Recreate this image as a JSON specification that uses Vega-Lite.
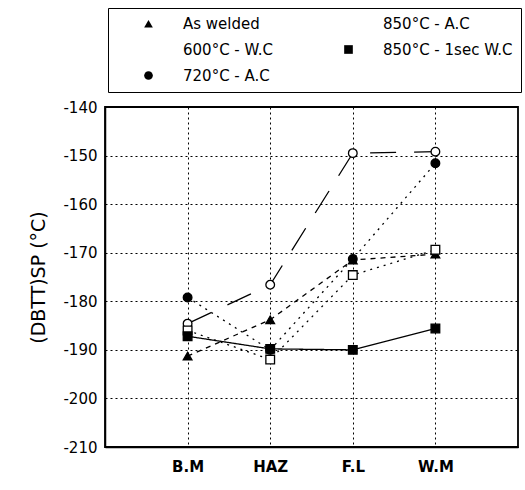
{
  "$schema": "https://vega.github.io/schema/vega-lite/v6.json",
  "width": 413,
  "height": 340,
  "autosize": "none",
  "padding": {"left": 105, "top": 107, "right": 7, "bottom": 43},
  "background": "white",
  "config": {
    "font": "DejaVu Sans",
    "view": {"stroke": "black", "strokeWidth": 1.8},
    "axis": {"domainColor": "black", "domainWidth": 1.5, "gridColor": "black", "gridDash": [2, 3], "gridOpacity": 1, "gridWidth": 1, "ticks": false, "labelColor": "black", "titleColor": "black"}
  },
  "data": {
    "values": [
      {"series": "As welded", "loc": "B.M", "v": -191.3},
      {"series": "As welded", "loc": "HAZ", "v": -183.8},
      {"series": "As welded", "loc": "F.L", "v": -171.5},
      {"series": "As welded", "loc": "W.M", "v": -170.3},
      {"series": "600°C - W.C", "loc": "B.M", "v": -184.6},
      {"series": "600°C - W.C", "loc": "HAZ", "v": -176.6},
      {"series": "600°C - W.C", "loc": "F.L", "v": -149.5},
      {"series": "600°C - W.C", "loc": "W.M", "v": -149.2},
      {"series": "720°C - A.C", "loc": "B.M", "v": -179.2},
      {"series": "720°C - A.C", "loc": "HAZ", "v": -190.0},
      {"series": "720°C - A.C", "loc": "F.L", "v": -171.3},
      {"series": "720°C - A.C", "loc": "W.M", "v": -151.6},
      {"series": "850°C - A.C", "loc": "B.M", "v": -186.0},
      {"series": "850°C - A.C", "loc": "HAZ", "v": -192.0},
      {"series": "850°C - A.C", "loc": "F.L", "v": -174.6},
      {"series": "850°C - A.C", "loc": "W.M", "v": -169.4},
      {"series": "850°C - 1sec W.C", "loc": "B.M", "v": -187.2},
      {"series": "850°C - 1sec W.C", "loc": "HAZ", "v": -189.8},
      {"series": "850°C - 1sec W.C", "loc": "F.L", "v": -190.0},
      {"series": "850°C - 1sec W.C", "loc": "W.M", "v": -185.6}
    ]
  },
  "encoding": {
    "x": {
      "field": "loc", "type": "nominal",
      "sort": ["B.M", "HAZ", "F.L", "W.M"],
      "scale": {"type": "point", "padding": 1},
      "axis": {"title": null, "labelAngle": 0, "grid": true, "labelFontSize": 15, "labelFontWeight": "bold", "labelPadding": 12}
    },
    "y": {
      "field": "v", "type": "quantitative",
      "scale": {"domain": [-210, -140], "nice": false},
      "axis": {"values": [-210, -200, -190, -180, -170, -160, -150, -140], "labelExpr": "'' + datum.value", "title": "(DBTT)SP (°C)", "titleFontSize": 19, "titleFontWeight": "normal", "titlePadding": 14, "labelFontSize": 15, "labelPadding": 8}
    }
  },
  "layer": [
    {
      "mark": {"type": "line", "color": "black", "strokeWidth": 1.3},
      "encoding": {
        "strokeDash": {
          "field": "series", "type": "nominal",
          "sort": ["As welded", "850°C - A.C", "600°C - W.C", "850°C - 1sec W.C", "720°C - A.C"],
          "scale": {
            "range": [[5, 5], [2, 5], [26, 18], [1, 0], [2, 5]]
          },
          "legend": null
        }
      }
    },
    {
      "mark": {"type": "point", "filled": false, "color": "black", "stroke": "black", "strokeWidth": 1.3, "size": 75, "opacity": 1},
      "encoding": {
        "shape": {
          "field": "series", "type": "nominal",
          "scale": {
            "domain": ["As welded", "850°C - A.C", "600°C - W.C", "850°C - 1sec W.C", "720°C - A.C"],
            "range": ["triangle-up", "square", "circle", "square", "circle"]
          },
          "legend": {
            "title": null, "orient": "none", "legendX": 3, "legendY": -99,
            "columns": 2, "direction": "horizontal",
            "strokeColor": "black", "fillColor": "white", "padding": 8,
            "labelFontSize": 15, "labelColor": "black", "symbolSize": 75,
            "symbolOffset": 25, "labelOffset": 27,
            "symbolStrokeColor": "black", "symbolStrokeWidth": 1.3,
            "columnPadding": 43, "rowPadding": 10, "labelLimit": 300,
            "encode": {
              "legend": {"update": {"strokeWidth": {"value": 2}}},
              "symbols": {"update": {"stroke": {"value": "black"}, "strokeWidth": {"value": 1.3}, "opacity": {"value": 1}}}
            }
          }
        },
        "fill": {
          "field": "series", "type": "nominal",
          "scale": {
            "domain": ["As welded", "850°C - A.C", "600°C - W.C", "850°C - 1sec W.C", "720°C - A.C"],
            "range": ["black", "white", "white", "black", "black"]
          }
        }
      }
    }
  ]
}
